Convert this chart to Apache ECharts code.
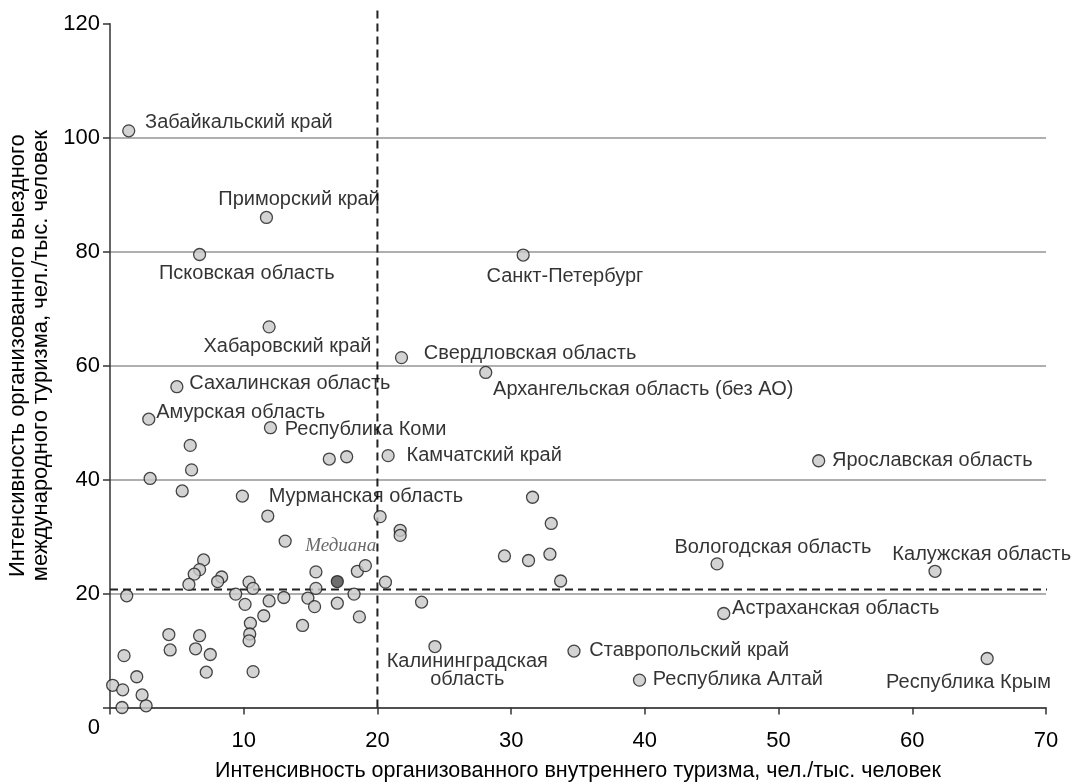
<!DOCTYPE html>
<html>
<head>
<meta charset="utf-8">
<script src="https://cdn.jsdelivr.net/npm/echarts@6/dist/echarts.min.js"></script>
<style>
html,body{margin:0;padding:0;background:#fff;}
#chart{width:1072px;height:783px;}
</style>
</head>
<body>
<div id="chart"></div>
<script>
// Labeled regions
const labeledNames = [
  'Забайкальский край','Приморский край','Псковская область','Санкт-Петербург',
  'Хабаровский край','Свердловская область','Архангельская область (без АО)',
  'Сахалинская область','Амурская область','Республика Коми','Камчатский край',
  'Ярославская область','Мурманская область','Вологодская область','Калужская область',
  'Астраханская область','Калининградская\nобласть','Ставропольский край',
  'Республика Алтай','Республика Крым'
];
const labeledX = [1.4,11.7,6.7,30.9,11.9,21.8,28.1,5.0,2.9,12.0,20.8,53.0,9.9,45.4,61.7,45.9,24.3,34.7,39.6,65.6];
const labeledY = [101.2,86.0,79.5,79.4,66.8,61.4,58.8,56.3,50.6,49.1,44.2,43.3,37.1,25.2,23.9,16.5,10.7,9.9,4.8,8.6];

// Unlabeled regions
const otherX = [16.4,17.7,6.0,6.1,3.0,5.4,11.8,13.1,20.2,21.7,21.7,7.0,6.7,6.3,5.9,8.35,8.05,1.25,9.4,10.4,10.7,10.1,11.9,11.5,13.0,14.4,14.8,15.3,15.4,15.4,17.0,18.25,18.5,19.1,18.65,20.6,10.5,10.45,10.4,10.7,4.4,4.5,6.7,6.4,7.5,7.2,1.05,2.0,0.2,0.95,2.4,0.9,2.7,31.6,33.0,29.5,31.3,32.9,33.7,23.3];
const otherY = [43.6,44.0,46.0,41.7,40.2,38.0,33.6,29.2,33.5,31.1,30.2,25.9,24.2,23.4,21.6,22.9,22.1,19.6,19.9,22.0,20.9,18.1,18.7,16.1,19.3,14.4,19.2,17.7,23.8,20.9,18.3,19.9,23.9,24.9,15.9,22.0,14.8,12.9,11.7,6.3,12.8,10.1,12.6,10.3,9.3,6.2,9.1,5.4,3.9,3.1,2.2,0.0,0.3,36.9,32.3,26.6,25.8,26.9,22.2,18.5];

// Median point and median lines
const medianPoint = [17.0, 22.1];
const medianLineX = 20;
const medianLineY = 20.7;

const xTicks = [0,10,20,30,40,50,60,70];
const yTicks = [0,20,40,60,80,100,120];

// label placement: [dx, dy, align] relative to point centre
const labelPlacement = {
  'Забайкальский край': [17,-8,'left'],
  'Приморский край': [114,-17,'right'],
  'Псковская область': [-40,20,'left'],
  'Санкт-Петербург': [-36,22,'left'],
  'Хабаровский край': [103,20,'right'],
  'Свердловская область': [23,-3,'left'],
  'Архангельская область (без АО)': [8,18,'left'],
  'Сахалинская область': [13,-3,'left'],
  'Амурская область': [8,-6,'left'],
  'Республика Коми': [15,2,'left'],
  'Камчатский край': [19,1,'left'],
  'Ярославская область': [14,0,'left'],
  'Мурманская область': [27,1,'left'],
  'Вологодская область': [-42,-16,'left'],
  'Калужская область': [-42,-16,'left'],
  'Астраханская область': [9,-4,'left'],
  'Калининградская\nобласть': [33,25,'center'],
  'Ставропольский край': [16,0,'left'],
  'Республика Алтай': [14,0,'left'],
  'Республика Крым': [-18,25,'center']
};

const FONT = '"Liberation Sans", Arial, sans-serif';
const SYM = 12;
const TXT = '#000';

const labeledData = labeledNames.map((n, i) => {
  const p = labelPlacement[n];
  return {
    name: n,
    value: [labeledX[i], labeledY[i]],
    label: {
      show: true,
      position: [SYM/2 + p[0], SYM/2 + p[1]],
      align: p[2],
      verticalAlign: 'middle',
      formatter: '{b}',
      fontFamily: FONT,
      fontSize: 20,
      lineHeight: 18,
      color: TXT
    }
  };
});
const otherData = otherX.map((x, i) => [x, otherY[i]]);

const chart = echarts.init(document.getElementById('chart'));
chart.setOption({
  animation: false,
  backgroundColor: '#fff',
  grid: { left: 110, right: 26, top: 23.7, bottom: 75.5, outerBoundsMode: 'none', containLabel: false },
  xAxis: {
    type: 'value', min: 0, max: 70, interval: 10,
    name: 'Интенсивность организованного внутреннего туризма, чел./тыс. человек',
    nameLocation: 'middle', nameGap: 53,
    nameTextStyle: { fontFamily: FONT, fontSize: 21.5, color: TXT },
    axisLine: { show: true, lineStyle: { color: '#333', width: 1.5 } },
    axisTick: { show: true, inside: false, length: 7, lineStyle: { color: '#333', width: 1.5 } },
    axisLabel: {
      fontFamily: FONT, fontSize: 22, color: TXT, margin: 22,
      formatter: v => (v === 0 ? '' : String(v))
    },
    splitLine: { show: false }
  },
  yAxis: {
    type: 'value', min: 0, max: 120, interval: 20,
    name: 'Интенсивность организованного выездного\nмеждународного туризма, чел./тыс. человек',
    nameLocation: 'middle', nameGap: 49, nameRotate: 90,
    nameTextStyle: { fontFamily: FONT, fontSize: 22, lineHeight: 23, color: TXT, padding: [0, 0, 0, 20] },
    axisLine: { show: true, lineStyle: { color: '#333', width: 1.5 } },
    axisTick: { show: true, inside: false, length: 7, lineStyle: { color: '#333', width: 1.5 } },
    axisLabel: {
      fontFamily: FONT, fontSize: 22, color: TXT, margin: 10,
      formatter: v => (v === 0 ? '{z|0}' : String(v)),
      rich: { z: { fontFamily: FONT, fontSize: 22, color: TXT, padding: [40, 0, 0, 0] } }
    },
    splitLine: { show: true, showMaxLine: false, lineStyle: { color: '#959595', width: 1.5 } }
  },
  series: [
    {
      type: 'line', clip: false, silent: true, symbol: 'none',
      data: [[medianLineX, 0], [medianLineX, 123.2]],
      lineStyle: { color: '#222', width: 2, type: [8, 5] }, z: 3
    },
    {
      type: 'line', clip: false, silent: true, symbol: 'none',
      data: [[0, medianLineY], [71.0, medianLineY]],
      lineStyle: { color: '#222', width: 2, type: [8, 5] }, z: 3
    },
    {
      type: 'scatter', clip: false, symbolSize: SYM, z: 5,
      itemStyle: { color: '#c8c8c8', borderColor: '#1a1a1a', borderWidth: 1.3 },
      data: otherData
    },
    {
      type: 'scatter', clip: false, symbolSize: SYM, z: 6,
      itemStyle: { color: '#c8c8c8', borderColor: '#1a1a1a', borderWidth: 1.3 },
      labelLayout: { hideOverlap: false },
      data: labeledData
    },
    {
      type: 'scatter', clip: false, symbolSize: SYM, z: 7,
      itemStyle: { color: '#4a4a4a', borderColor: '#1a1a1a', borderWidth: 1.3 },
      data: [{
        name: 'Медиана', value: medianPoint,
        label: {
          show: true, position: [SYM/2 + 4, SYM/2 - 35], align: 'center', verticalAlign: 'middle',
          formatter: '{b}', fontFamily: '"Liberation Serif", "DejaVu Serif", serif',
          fontStyle: 'italic', fontSize: 19, color: '#444'
        }
      }]
    }
  ]
});
</script>
</body>
</html>
